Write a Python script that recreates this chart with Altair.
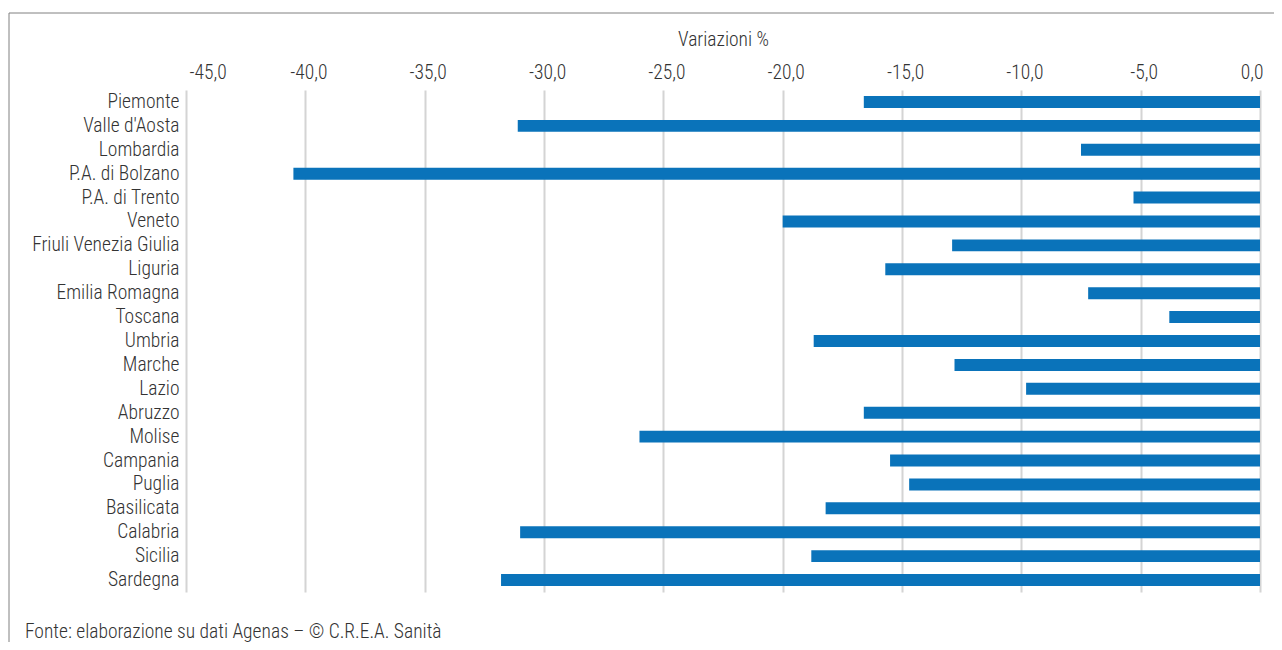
import altair as alt
import pandas as pd

regions = ["Piemonte", "Valle d'Aosta", "Lombardia", "P.A. di Bolzano", "P.A. di Trento",
           "Veneto", "Friuli Venezia Giulia", "Liguria", "Emilia Romagna", "Toscana",
           "Umbria", "Marche", "Lazio", "Abruzzo", "Molise", "Campania", "Puglia",
           "Basilicata", "Calabria", "Sicilia", "Sardegna"]
values = [-16.6, -31.1, -7.5, -40.5, -5.3,
          -20.0, -12.9, -15.7, -7.2, -3.8,
          -18.7, -12.8, -9.8, -16.6, -26.0, -15.5, -14.7,
          -18.2, -31.0, -18.8, -31.8]
tick_values = [-45, -40, -35, -30, -25, -20, -15, -10, -5, 0]
axis_title = "Variazioni %"
caption = "Fonte: elaborazione su dati Agenas \u2013 \u00a9 C.R.E.A. Sanit\u00e0"

FONT = "Roboto Condensed"
FS = 19.5
FW = 300
TEXT = "#333333"

df = pd.DataFrame({"regione": regions, "valore": values})
note = pd.DataFrame({"t": [caption]})

bars = alt.Chart(df).mark_bar(color="#0A73BA").encode(
    x=alt.X("valore:Q",
            scale=alt.Scale(domain=[-45, 0], nice=False),
            axis=alt.Axis(orient="top", values=tick_values, title=axis_title,
                          labelExpr="(datum.value < 0 ? '-' : '') + replace(format(abs(datum.value), '.1f'), '.', ',')",
                          grid=True, gridColor="#d4d4d4", gridWidth=2,
                          domain=False, ticks=False, labelPadding=8, labelOffset=3,
                          titlePadding=13, labelFontSize=FS, titleFontSize=FS,
                          labelFont=FONT, titleFont=FONT, labelColor=TEXT,
                          labelFontWeight=FW, titleColor=TEXT, titleFontWeight=FW)),
    y=alt.Y("regione:N", sort=regions, title=None,
            scale=alt.Scale(paddingInner=0.5, paddingOuter=0.25),
            axis=alt.Axis(domain=False, ticks=False, labelPadding=7,
                          labelFontSize=FS, labelFont=FONT, labelColor=TEXT,
                          labelFontWeight=FW, labelLimit=300)),
)

frame = alt.Chart(note).mark_rect(fill=None, stroke="#808080", strokeWidth=1).encode(
    x=alt.value(-177), x2=alt.value(1200), y=alt.value(-77), y2=alt.value(700)
)

cap = alt.Chart(note).mark_text(align="left", baseline="middle", fontSize=FS,
                                font=FONT, fontWeight=FW, color=TEXT).encode(
    text="t:N", x=alt.value(-161), y=alt.value(542)
)

chart = alt.layer(frame, bars, cap).properties(
    width=1074, height=502,
    autosize=alt.AutoSizeParams(type="none"),
    padding={"left": 178, "top": 82, "right": 14, "bottom": 50},
).configure_view(stroke=None)

chart.save("out.html", embed_options={"renderer": "svg", "actions": False})
